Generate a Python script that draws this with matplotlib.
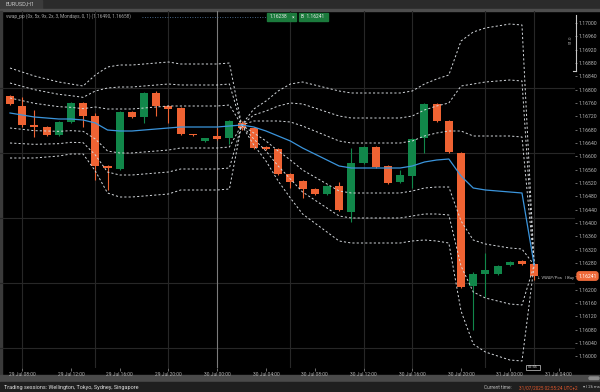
import matplotlib
matplotlib.use("Agg")
import matplotlib.pyplot as plt
from matplotlib.patches import Rectangle, FancyBboxPatch
from matplotlib.ticker import MultipleLocator, FuncFormatter
import numpy as np

plt.rcParams['font.family'] = ['Roboto', 'DejaVu Sans']

# ---------------- data ----------------
symbol = "EURUSD,H1"
opens = [1.16781, 1.16751, 1.16694, 1.16688, 1.16664, 1.16703, 1.16760, 1.16721, 1.16571, 1.16562,
         1.16733, 1.16718, 1.16790, 1.16751, 1.16745, 1.16667, 1.16646, 1.16661, 1.16655, 1.16700,
         1.16685, 1.16628, 1.16622, 1.16547, 1.16526, 1.16502, 1.16487, 1.16511, 1.16433, 1.16580,
         1.16628, 1.16571, 1.16523, 1.16541, 1.16655, 1.16757, 1.16706, 1.16610, 1.16211, 1.16247,
         1.16247, 1.16274, 1.16286, 1.16277]
highs = [1.16784, 1.16778, 1.16739, 1.16691, 1.16706, 1.16763, 1.16763, 1.16730, 1.16574, 1.16736,
         1.16736, 1.16793, 1.16796, 1.16754, 1.16748, 1.16667, 1.16655, 1.16685, 1.16709, 1.16706,
         1.16688, 1.16631, 1.16625, 1.16550, 1.16529, 1.16505, 1.16514, 1.16523, 1.16625, 1.16631,
         1.16631, 1.16574, 1.16559, 1.16655, 1.16760, 1.16760, 1.16709, 1.16613, 1.16253, 1.16310,
         1.16274, 1.16286, 1.16289, 1.16280]
lows = [1.16754, 1.16688, 1.16658, 1.16661, 1.16661, 1.16700, 1.16688, 1.16529, 1.16499, 1.16559,
        1.16715, 1.16700, 1.16721, 1.16700, 1.16664, 1.16661, 1.16643, 1.16649, 1.16637, 1.16679,
        1.16622, 1.16619, 1.16544, 1.16505, 1.16475, 1.16484, 1.16484, 1.16436, 1.16403, 1.16577,
        1.16565, 1.16517, 1.16520, 1.16505, 1.16610, 1.16703, 1.16610, 1.16205, 1.16079, 1.16178,
        1.16244, 1.16271, 1.16274, 1.16229]
closes = [1.16757, 1.16694, 1.16688, 1.16664, 1.16703, 1.16760, 1.16721, 1.16571, 1.16565, 1.16733,
          1.16718, 1.16790, 1.16751, 1.16742, 1.16667, 1.16664, 1.16655, 1.16652, 1.16706, 1.16685,
          1.16625, 1.16622, 1.16547, 1.16523, 1.16502, 1.16487, 1.16511, 1.16439, 1.16580, 1.16628,
          1.16568, 1.16520, 1.16544, 1.16652, 1.16757, 1.16706, 1.16613, 1.16208, 1.16247, 1.16259,
          1.16271, 1.16283, 1.16277, 1.16241]
vwap = [1.16730, 1.16724, 1.16718, 1.16715, 1.16712, 1.16712, 1.16709, 1.16700, 1.16679, 1.16676,
        1.16676, 1.16679, 1.16682, 1.16685, 1.16688, 1.16688, 1.16688, 1.16688, 1.16691, 1.16694,
        1.16688, 1.16676, 1.16661, 1.16646, 1.16625, 1.16607, 1.16589, 1.16571, 1.16565, 1.16565,
        1.16565, 1.16565, 1.16565, 1.16571, 1.16583, 1.16589, 1.16592, 1.16541, 1.16505, 1.16499,
        1.16496, 1.16493, 1.16490, 1.16274]
sigma = [0.00045, 0.00043, 0.00041, 0.00039, 0.00037, 0.00035, 0.00034, 0.00048, 0.00063, 0.00066,
         0.00066, 0.00066, 0.00066, 0.00066, 0.00063, 0.00063, 0.00063, 0.00063, 0.00063, 0.00000,
         0.00018, 0.00030, 0.00045, 0.00057, 0.00066, 0.00069, 0.00072, 0.00075, 0.00075, 0.00075,
         0.00075, 0.00075, 0.00075, 0.00075, 0.00078, 0.00081, 0.00084, 0.00135, 0.00156, 0.00162,
         0.00165, 0.00168, 0.00168, 0.00000]
band_mult = [1, 2, 3]
time_idx = [1, 5, 9, 13, 17, 21, 25, 29, 33, 37, 41, 45]
time_labels = ["29 Jul 08:00", "29 Jul 12:00", "29 Jul 16:00", "29 Jul 20:00",
               "30 Jul 00:00", "30 Jul 04:00", "30 Jul 08:00", "30 Jul 12:00",
               "30 Jul 16:00", "30 Jul 20:00", "31 Jul 00:00", "31 Jul 04:00"]
day_separator_idx = 17
vgrid_idx = [1, 7, 13, 23, 29, 33, 39, 43]
hgrid_prices = [1.16805, 1.16610, 1.16415, 1.16220, 1.16025]
last_price = closes[-1]

# ---------------- figure ----------------
W, H = 600, 392
fig = plt.figure(figsize=(W / 100, H / 100), dpi=100, facecolor="black")

bg = fig.add_axes([0, 0, 1, 1], zorder=0)
bg.set_xlim(0, W); bg.set_ylim(H, 0); bg.axis("off")
bg.add_patch(Rectangle((0, 0), W, 9, color="#2b2b2b"))
bg.add_patch(Rectangle((0, 0), 42, 9, color="#3b3b3b"))
bg.add_patch(Rectangle((0, 9), W, 2, color="#4d4d4d"))
bg.add_patch(Rectangle((0, 11), 2, 364, color="#3a3a3a"))
bg.add_patch(Rectangle((0, 375), W, 7, color="#4a4a4a"))
bg.add_patch(Rectangle((0, 382), W, 10, color="#1f1f1f"))
bg.add_patch(FancyBboxPatch((589, 377), 10, 2.5, boxstyle="round,pad=0,rounding_size=1.2",
                            color="#8c8c8c"))
bg.text(5, 4.6, symbol, color="#c8c8c8", fontsize=4.0, va="center", ha="left")
bg.text(4, 387.5, "Trading sessions: Wellington, Tokyo, Sydney, Singapore",
        color="#e0e0e0", fontsize=4.0, va="center", ha="left")
bg.text(484, 387.5, "Current time:", color="#bdbdbd", fontsize=3.4, va="center", ha="left")
bg.text(519, 387.5, "31/07/2025 02:55:24 UTC+2", color="#e2572b", fontsize=3.3,
        va="center", ha="left")
bg.text(599.5, 387.5, "\u25be | 26 ms", color="#bdbdbd", fontsize=3.1, va="center", ha="right")

# main price axes: pixel x 0..575, y 11..368
ax = fig.add_axes([0, (H - 368) / H, 575 / W, (368 - 11) / H], zorder=2)
ax.set_facecolor("none")
ax.set_xlim(-0.82, 46.35)
ax.set_ylim(1.15965, 1.17036)
for s in ax.spines.values():
    s.set_visible(False)

n = len(opens)
x = np.arange(n)

# grid
for gi in vgrid_idx:
    ax.axvline(gi, color="#272727", lw=0.8, zorder=0)
for gp in hgrid_prices:
    ax.axhline(gp, color="#272727", lw=0.8, zorder=0)
ax.axvline(day_separator_idx, color="#7c7c7c", lw=0.8, zorder=0.5)

# candles
up_col, dn_col = "#11874a", "#ef6333"
o = np.array(opens); c = np.array(closes); hi = np.array(highs); lo = np.array(lows)
cols = [up_col if cc > oo else dn_col for oo, cc in zip(o, c)]
ax.vlines(x, lo, hi, colors=cols, lw=0.8, zorder=2)
body_h = np.maximum(np.abs(c - o), 0.00004)
ax.bar(x, body_h, bottom=np.minimum(o, c), width=0.66, color=cols, lw=0, zorder=3)

# VWAP and bands
vw = np.array(vwap); sd = np.array(sigma)
for k in band_mult:
    for sgn in (1, -1):
        ax.plot(x, vw + sgn * k * sd, color="#d4d8dc", lw=0.7,
                linestyle=(0, (2.2, 2.2)), zorder=4)
ax.plot(x, vw, color="#3b95dc", lw=0.9, zorder=5)

# axes ticks
ax.yaxis.tick_right()
ax.yaxis.set_major_locator(MultipleLocator(0.0004))
ax.yaxis.set_major_formatter(FuncFormatter(lambda v, p: f"{v:.5f}"))
ax.tick_params(axis="y", colors="#9a9a9a", labelcolor="#b4b4b4", labelsize=3.7,
               length=1.5, width=0.5, pad=1.2)
ax.set_xticks(time_idx)
ax.set_xticklabels(time_labels)
ax.tick_params(axis="x", colors="#9a9a9a", labelcolor="#b4b4b4", labelsize=3.5,
               length=2, width=0.5, pad=1.2)

# overlay (pixel coordinates)
ov = fig.add_axes([0, 0, 1, 1], zorder=3)
ov.set_xlim(0, W); ov.set_ylim(H, 0); ov.axis("off"); ov.set_facecolor("none")
ov.text(6, 16.5, "vwap_pp (0x, 5x, 9x, 2x, 3, Mondays, 0, 1) (1.16490, 1.16658)",
        color="#a8a8a8", fontsize=3.4, va="center", ha="left")
ov.plot([142, 266], [16.5, 16.5], color="#5f86b0", lw=0.6, linestyle=(0, (1, 2)))
ov.add_patch(Rectangle((267, 13), 29, 7.5, color="#1b7a3c"))
ov.text(269.5, 16.8, "1.16238", color="#e8e8e8", fontsize=3.5, va="center", ha="left")
ov.text(294, 16.8, "\u00d7", color="#e8e8e8", fontsize=3.5, va="center", ha="right")
ov.add_patch(Rectangle((299, 13), 29, 7.5, color="#1b7a3c"))
ov.text(301, 16.8, "B  1.16241", color="#e8e8e8", fontsize=3.5, va="center", ha="left")
# ruler at top right
ov.plot([576, 576], [15, 71], color="#c8c8c8", lw=0.8)
ov.plot([573, 576], [71, 71], color="#c8c8c8", lw=0.8)
ov.text(572.5, 40, "51.0", color="#b0b0b0", fontsize=3.2, rotation=90,
        va="center", ha="right")
# current price tag
y_last = 11 + (1.17036 - last_price) / (1.17036 - 1.15965) * (368 - 11)
ov.add_patch(FancyBboxPatch((577, y_last - 4.2), 21, 8.4,
                            boxstyle="round,pad=0,rounding_size=2.5", color="#ee6a3a",
                            zorder=5))
ov.text(587.5, y_last, f"{last_price:.5f}", color="white", fontsize=3.6,
        va="center", ha="center", zorder=6)
ov.text(537, y_last + 1.5, "\u2193 VWAP/Pos", color="#c4c4c4", fontsize=3.0,
        va="center", ha="left")
ov.text(574, y_last + 1.5, "| Buy", color="#c4c4c4", fontsize=3.0,
        va="center", ha="right")
ov.add_patch(Rectangle((526, 364.5), 14, 5.5, fill=False, ec="#d0d0d0", lw=0.5))
ov.text(533, 367.3, "02:55", color="#d0d0d0", fontsize=2.8, va="center", ha="center")

fig.savefig("out.png", dpi=100, facecolor="black")
